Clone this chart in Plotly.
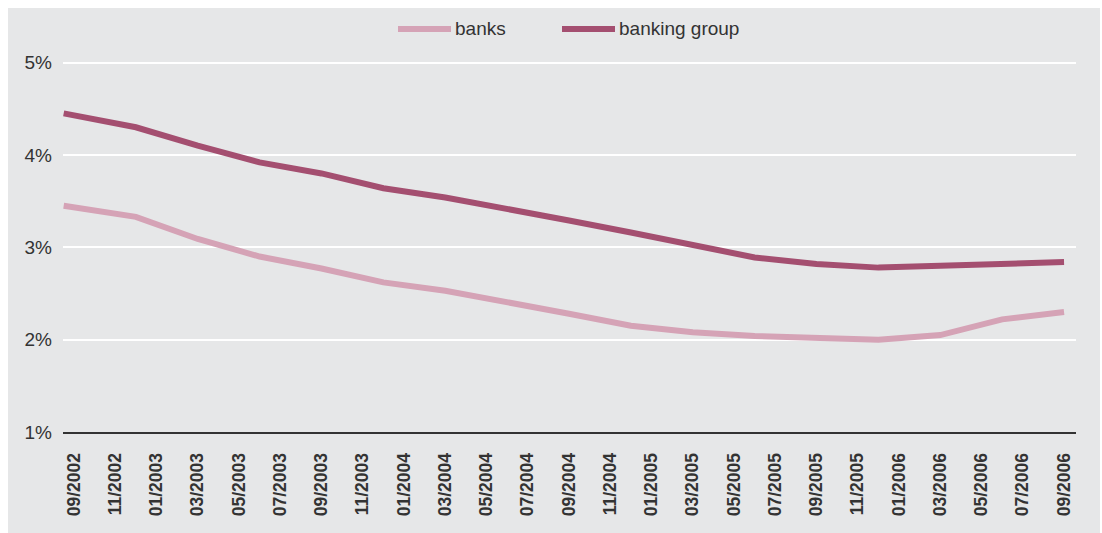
import plotly.graph_objects as go

# Months counted from 09/2002 (quarterly observations)
months = [-0.5, 3, 6, 9, 12, 15, 18, 21, 24, 27, 30, 33, 36, 39, 42, 45, 48]

banks = [3.45, 3.33, 3.09, 2.90, 2.77, 2.62, 2.53, 2.41, 2.28, 2.15, 2.08,
         2.04, 2.02, 2.00, 2.05, 2.22, 2.30]
banking_group = [4.45, 4.30, 4.10, 3.92, 3.80, 3.64, 3.54, 3.42, 3.29, 3.16,
                 3.03, 2.89, 2.82, 2.78, 2.80, 2.82, 2.84]

series_names = ["banks", "banking group"]
series_colors = ["#d5a3b6", "#a44f70"]

tick_months = list(range(0, 49, 2))
tick_labels = ["09/2002", "11/2002", "01/2003", "03/2003", "05/2003", "07/2003",
               "09/2003", "11/2003", "01/2004", "03/2004", "05/2004", "07/2004",
               "09/2004", "11/2004", "01/2005", "03/2005", "05/2005", "07/2005",
               "09/2005", "11/2005", "01/2006", "03/2006", "05/2006", "07/2006",
               "09/2006"]

y_ticks = [1, 2, 3, 4, 5]

FONT = "Liberation Sans, Arial, sans-serif"
TEXT = "#333333"
PANEL = "#e6e7e8"

W, H = 1102, 533
ML, MR, MT, MB = 63, 26, 58, 101
pw, ph = W - ML - MR, H - MT - MB


def px_x(p):
    return (p - ML) / pw


def px_y(p):
    return (H - MB - p) / ph


fig = go.Figure()
for name, vals, col in zip(series_names, [banks, banking_group], series_colors):
    fig.add_trace(go.Scatter(x=months, y=vals, name=name, mode="lines",
                             line=dict(color=col, width=6), showlegend=False))

# light grey panel behind the whole chart
fig.add_shape(type="rect", xref="paper", yref="paper", layer="below",
              x0=px_x(8), x1=px_x(1100), y0=px_y(533), y1=px_y(8),
              fillcolor=PANEL, line=dict(width=0))

# legend row: swatch line + label for each series
legend_starts = [398, 562]
for start, name, col in zip(legend_starts, series_names, series_colors):
    fig.add_shape(type="line", xref="paper", yref="paper",
                  x0=px_x(start), x1=px_x(start + 53), y0=px_y(29), y1=px_y(29),
                  line=dict(color=col, width=6))
    fig.add_annotation(xref="paper", yref="paper", x=px_x(start + 55), y=px_y(29),
                       text=name, showarrow=False, xanchor="left", yanchor="middle",
                       font=dict(size=19, color=TEXT, family=FONT))

fig.update_layout(
    width=W, height=H,
    margin=dict(l=ML, r=MR, t=MT, b=MB),
    paper_bgcolor="white",
    plot_bgcolor=PANEL,
    font=dict(family=FONT, color=TEXT),
    showlegend=False,
    xaxis=dict(range=[-0.533, 48.58], tickmode="array", tickvals=tick_months,
               ticktext=tick_labels, tickangle=-90, showgrid=False, zeroline=False,
               showline=True, linecolor="#333333", linewidth=2, ticks="",
               ticklabelstandoff=12,
               tickfont=dict(size=17.5, family=FONT, color=TEXT, weight="bold")),
    yaxis=dict(range=[1, 5.05], tickmode="array", tickvals=y_ticks,
               ticktext=[f"{v}%" for v in y_ticks], showgrid=True,
               gridcolor="white", gridwidth=2, zeroline=False, showline=False,
               ticks="", ticklabelstandoff=10,
               tickfont=dict(size=19, family=FONT, color=TEXT)),
)

fig.write_html("out.html")
